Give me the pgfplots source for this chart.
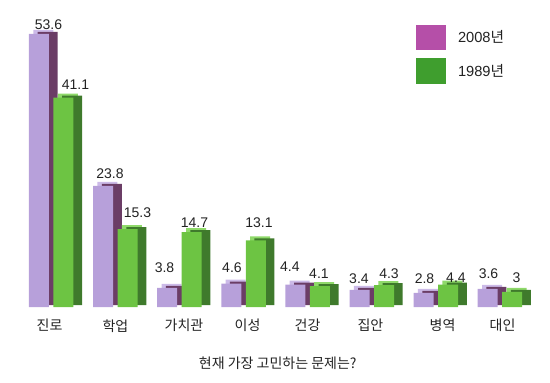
\documentclass[border=0pt]{standalone}
\usepackage{fontspec}
\setmainfont{Liberation Sans}
\newfontfamily\kr{Noto Sans CJK KR}
\usepackage{pgfplots}
\usepackage{pgfplotstable}
\pgfplotsset{compat=1.18}

\definecolor{pfront}{HTML}{B7A0DA}
\definecolor{ptop}{HTML}{CCBAE8}
\definecolor{pside}{HTML}{6B3D66}
\definecolor{gfront}{HTML}{6DC443}
\definecolor{gtop}{HTML}{8FD96A}
\definecolor{gside}{HTML}{3F7A2C}
\definecolor{legp}{HTML}{B54FA8}
\definecolor{legg}{HTML}{3F9E2E}
\definecolor{txt}{HTML}{222222}

\pgfplotstableread{
x y lab dx dy
0 53.6 53.6 7.1 3.5
1 23.8 23.8 5.2 5.7
2 3.8 3.8 -2.0 11.7
3 4.6 4.6 0.5 8.6
4 4.4 4.4 -4.1 10.2
5 3.4 3.4 -0.4 5.0
6 2.8 2.8 0.7 7.3
7 3.6 3.6 0.6 8.0
}\tabP

\pgfplotstableread{
x y lab dx dy
0 41.1 41.1 9.0 6.3
1 15.3 15.3 7.4 9.0
2 14.7 14.7 2.1 3.75
3 13.1 13.1 2.4 9.9
4 4.1 4.1 -0.7 6.1
5 4.3 4.3 3.75 5.3
6 4.4 4.4 5.9 2.0
7 3 3 3.2 7.3
}\tabG

\pgfplotsset{
  legbox/.style={legend image code/.code={\fill[##1,draw=none] (0pt,-9.5pt) rectangle (22.5pt,9.5pt); \path (31.5pt,0pt);}},
  vlabels/.style={nodes near coords, point meta=explicit symbolic,
    visualization depends on={\thisrow{dx}\as\dx},
    visualization depends on={\thisrow{dy}\as\dy},
    every node near coord/.append style={anchor=base, inner sep=0pt,
      xshift=\dx pt, yshift=\dy pt, font=\fontsize{10.5}{12}\selectfont, text=txt}},
}

\begin{document}
\begin{tikzpicture}
\begin{axis}[name=ax, at={(0,0)}, anchor=south west,
  scale only axis, width=412.5pt, height=230.25pt,
  xmin=-0.8736, xmax=7.7067, ymin=0, ymax=60.2,
  axis line style={draw=none}, ytick=\empty, major tick length=0pt,
  xtick={-0.101,0.928,1.997,2.988,3.924,4.906,6.030,6.966},
  xticklabels={진로,학업,가치관,이성,건강,집안,병역,대인},
  xticklabel style={font=\kr\fontsize{10.5}{12}\selectfont, text=txt, inner sep=0pt, anchor=north, yshift=-9pt},
  xlabel={현재 가장 고민하는 문제는?},
  xlabel style={font=\kr\fontsize{10.5}{12}\selectfont, text=txt, at={(axis description cs:0.505,0)}, anchor=center, yshift=-42pt},
  clip=false, ybar=0pt, bar width=15pt,
  legend style={at={(axis description cs:0.7564,0.9186)}, anchor=north west, draw=none, fill=none,
    inner sep=0pt, outer sep=0pt, row sep=6pt, font=\fontsize{11}{13}\selectfont, text=txt,
    nodes={inner sep=0pt}},
  legend cell align=left,
]
\addlegendimage{legbox, fill=legp, draw=none}
\addlegendentry{2008{\kr 년}}
\addlegendimage{legbox, fill=legg, draw=none}
\addlegendentry{1989{\kr 년}}

% 2008
\addplot[forget plot, fill=ptop, draw=none, bar shift=-9.5pt, yshift=3pt] table[x=x,y=y]{\tabP};
\addplot[forget plot, fill=pside, draw=none, bar shift=-6.25pt, yshift=1.5pt] table[x=x,y=y]{\tabP};
\addplot[forget plot, fill=pfront, draw=none, bar shift=-12.75pt, vlabels] table[x=x,y=y,meta=lab]{\tabP};
% 1989
\addplot[forget plot, fill=gtop, draw=none, bar shift=8.875pt, yshift=3pt] table[x=x,y=y]{\tabG};
\addplot[forget plot, fill=gside, draw=none, bar shift=12.125pt, yshift=1.5pt] table[x=x,y=y]{\tabG};
\addplot[forget plot, fill=gfront, draw=none, bar shift=5.625pt, vlabels] table[x=x,y=y,meta=lab]{\tabG};
\end{axis}
\path ([yshift=-56.25pt]ax.south west) rectangle (ax.north east);
\end{tikzpicture}
\end{document}
